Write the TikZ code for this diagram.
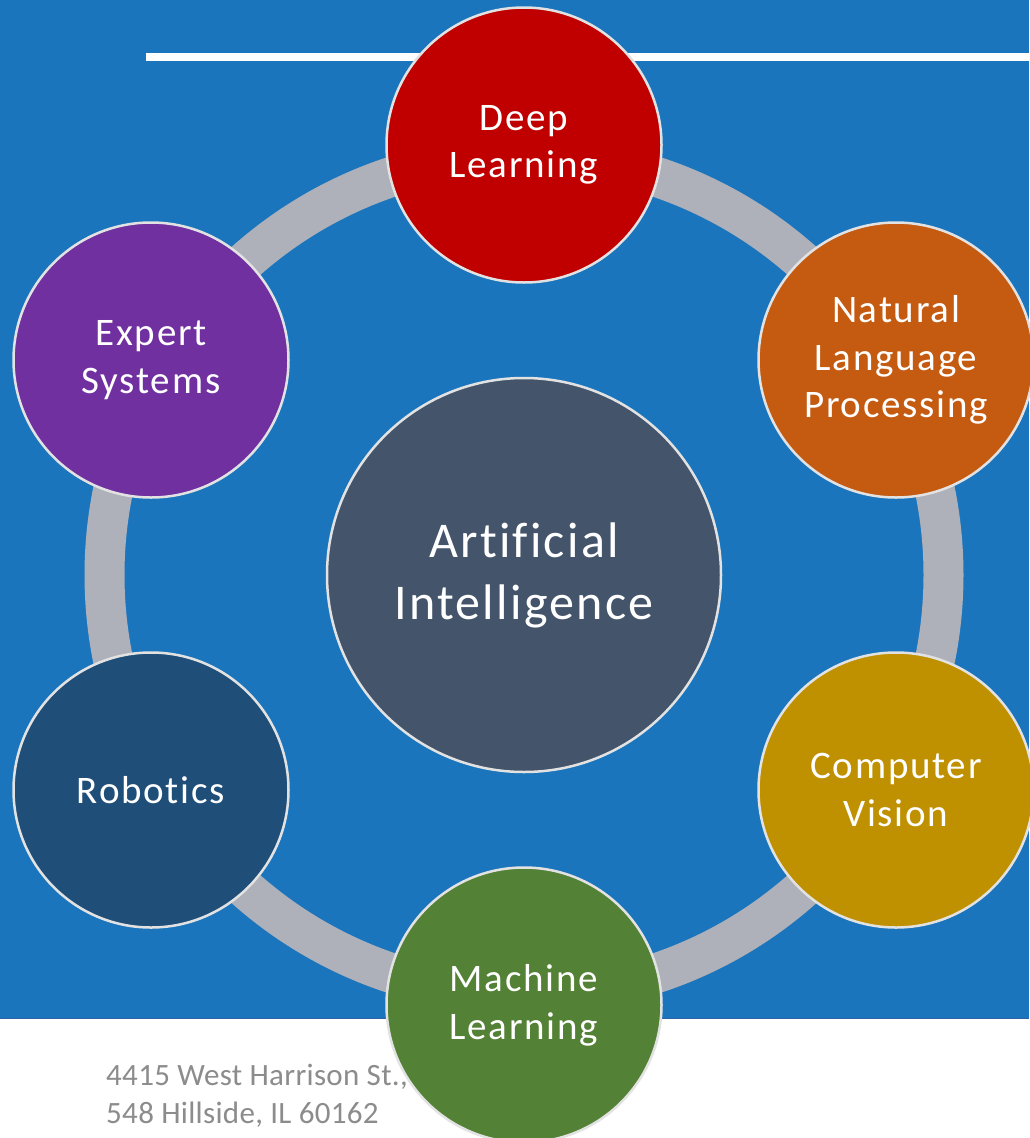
\documentclass[tikz,border=0pt]{standalone}
\usepackage{fontspec}
\setmainfont{Carlito}[Ligatures=NoCommon]
\newfontfamily\labelfont{Carlito}[Ligatures=NoCommon, LetterSpace=4.5]
\newfontfamily\addrfont{Carlito}[Ligatures=NoCommon, LetterSpace=1]
\definecolor{bgblue}{HTML}{1B75BC}
\definecolor{edgeblue}{HTML}{2C62A6}
\definecolor{ringgray}{HTML}{AEB1B9}
\definecolor{rimgray}{HTML}{E2E2E2}
\definecolor{aicore}{HTML}{44546A}
\definecolor{dlred}{HTML}{C00000}
\definecolor{nlporange}{HTML}{C55A11}
\definecolor{cvgold}{HTML}{BF9000}
\definecolor{mlgreen}{HTML}{538135}
\definecolor{robblue}{HTML}{1F4E79}
\definecolor{espurple}{HTML}{7030A0}
\definecolor{addrgray}{HTML}{8C8C8C}
\begin{document}
\begin{tikzpicture}[x=1pt,y=-1pt,
  topic/.style={circle, draw=rimgray, line width=2.5pt, inner sep=0pt,
    minimum size=275pt, text=white, align=center,
    font=\labelfont\fontsize{39}{47.6}\selectfont},
  hub/.style={topic, minimum size=394pt,
    font=\labelfont\fontsize{50}{62}\selectfont},
  ring/.style={draw=ringgray, line width=40pt},
  addr/.style={anchor=base west, inner sep=0pt, text=addrgray,
    font=\addrfont\fontsize{31}{38}\selectfont}]
  \useasboundingbox (0,0) rectangle (1029,1138);
  % slide background and footer
  \fill[white] (0,0) rectangle (1029,1138);
  \fill[bgblue] (0,0) rectangle (1029,1019);
  \draw[edgeblue, line width=1.5pt] (0,1018.5) -- (1029,1018.5);
  \fill[white] (146,53) rectangle (1029,61);
  % footer address
  \node[addr] (addr1) at (106,1085) {4415 West Harrison St.,};
  \node[addr] (addr2) at (106,1123) {548 Hillside, IL 60162};
  % ring joining the topics
  \coordinate (ctr) at (524,575);
  \draw[ring] (ctr) circle[radius=419.5pt];
  % hub and topics
  \node[hub, fill=aicore] (ai) at (ctr) {Artificial\\Intelligence};
  \node[topic, fill=dlred] (dl) at (524,145) {Deep\\Learning};
  \node[topic, fill=nlporange] (nlp) at (896,360) {Natural\\Language\\Processing};
  \node[topic, fill=cvgold] (cv) at (896,790) {Computer\\Vision};
  \node[topic, fill=mlgreen] (ml) at (524,1005) {Machine\\Learning};
  \node[topic, fill=robblue] (rob) at (151,790) {Robotics};
  \node[topic, fill=espurple] (es) at (151,360) {Expert\\Systems};
\end{tikzpicture}
\end{document}
